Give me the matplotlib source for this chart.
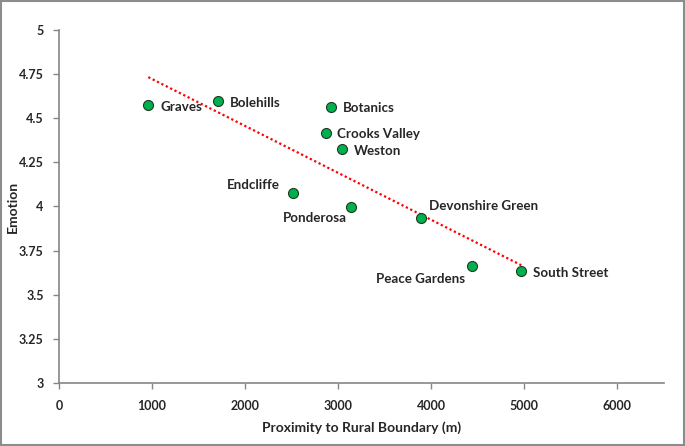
import numpy as np
import matplotlib.pyplot as plt
from matplotlib.patches import Rectangle
from matplotlib.ticker import FuncFormatter

# park names, distance to rural boundary (m) and mean emotion score
sites = ["Graves", "Bolehills", "Botanics", "Crooks Valley", "Weston",
         "Endcliffe", "Ponderosa", "Devonshire Green", "Peace Gardens",
         "South Street"]
proximity = [960, 1704, 2920, 2874, 3041, 2520, 3140, 3892, 4441, 4968]
emotion = [4.575, 4.598, 4.562, 4.416, 4.324, 4.078, 3.997, 3.935, 3.663, 3.635]

x_ticks = [0, 1000, 2000, 3000, 4000, 5000, 6000]
y_ticks = [3, 3.25, 3.5, 3.75, 4, 4.25, 4.5, 4.75, 5]

# label offsets in pixels and alignment, per site
label_pos = {
    "Graves": (12, -2, "left"),
    "Bolehills": (12, -2, "left"),
    "Botanics": (12, -1, "left"),
    "Crooks Valley": (11, -1, "left"),
    "Weston": (12, -2, "left"),
    "Endcliffe": (-14, 8, "right"),
    "Ponderosa": (-4, -11, "right"),
    "Devonshire Green": (8, 12, "left"),
    "Peace Gardens": (-7, -13, "right"),
    "South Street": (12, -2, "left"),
}

plt.rcParams["font.family"] = ["Lato", "DejaVu Sans"]
plt.rcParams["font.weight"] = "bold"

fig = plt.figure(figsize=(6.85, 4.46), dpi=100)
ax = fig.add_axes([0.0861, 0.1413, 0.883, 0.7914])

# linear trend through the points
slope, intercept = np.polyfit(proximity, emotion, 1)
trend_x = np.array([min(proximity), max(proximity)])
ax.plot(trend_x, slope * trend_x + intercept, color="#ff0000",
        linestyle=(0, (1, 1.2)), linewidth=1.6, zorder=2)

ax.scatter(proximity, emotion, s=52, color="#00b050", edgecolor="#1f3a1f",
           linewidth=0.8, zorder=3)

for name, px, py in zip(sites, proximity, emotion):
    dx, dy, ha = label_pos[name]
    ax.annotate(name, (px, py), xytext=(dx, dy), textcoords="offset pixels",
                ha=ha, va="center", fontsize=9.6, fontweight="bold",
                color="#262626")

ax.set_xlim(0, 6500)
ax.set_ylim(3, 5)
ax.set_xticks(x_ticks)
ax.set_yticks(y_ticks)
ax.yaxis.set_major_formatter(FuncFormatter(lambda v, p: f"{v:g}"))

for side in ["top", "right"]:
    ax.spines[side].set_visible(False)
for side in ["left", "bottom"]:
    ax.spines[side].set_color("#868686")
    ax.spines[side].set_linewidth(1.2)
ax.tick_params(colors="#868686", labelcolor="#262626", labelsize=9,
               length=4, width=1)
ax.tick_params(axis="y", pad=7)
ax.tick_params(axis="x", pad=8)
for lbl in ax.get_xticklabels() + ax.get_yticklabels():
    lbl.set_fontweight("bold")

ax.set_xlabel("Proximity to Rural Boundary (m)", fontsize=10,
              fontweight="bold", color="#262626", labelpad=7)
ax.set_ylabel("Emotion", fontsize=10, fontweight="bold", color="#262626")
ax.yaxis.set_label_coords(-0.066, 0.5)

# grey frame around the whole chart
fig.patches.append(Rectangle((0.002, 0.003), 0.996, 0.994,
                             transform=fig.transFigure, fill=False,
                             edgecolor="#8c8c8c", linewidth=1.5))

fig.savefig("out.png", dpi=100)
